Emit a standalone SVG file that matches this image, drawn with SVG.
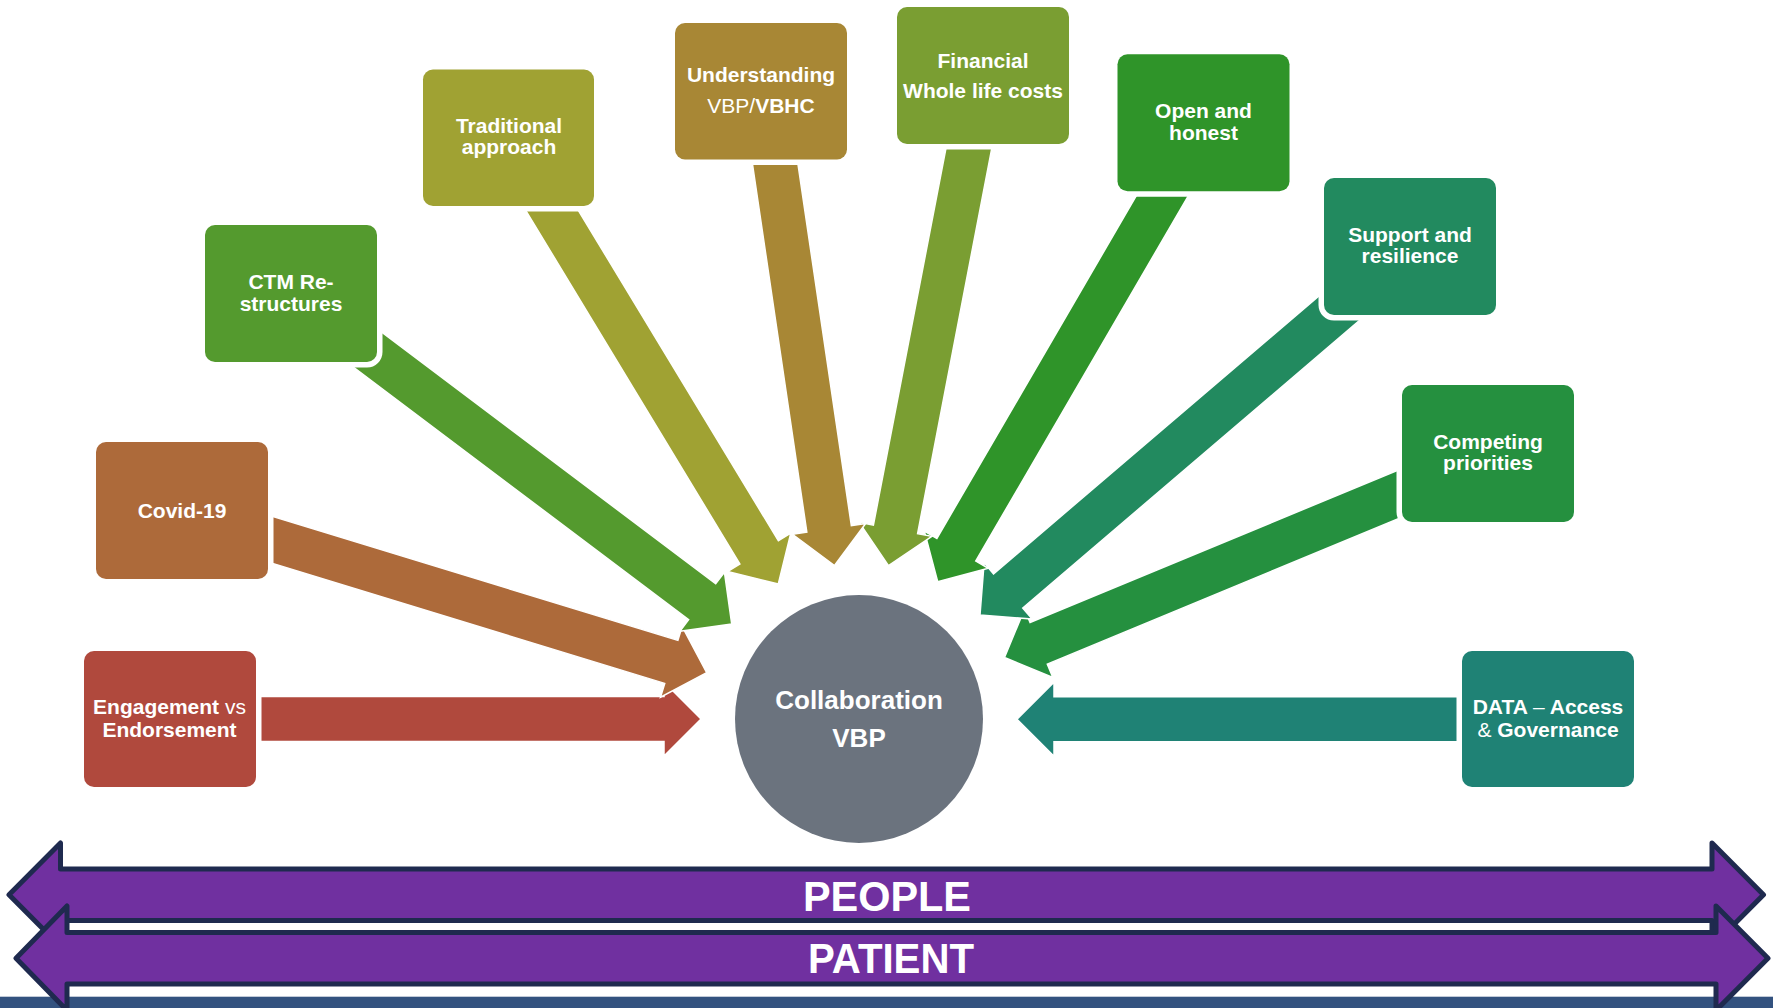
<svg xmlns="http://www.w3.org/2000/svg" xmlns:xlink="http://www.w3.org/1999/xlink" width="1773" height="1008" viewBox="0 0 1773 1008">
<style>
.bx{stroke:#fff;stroke-width:11;paint-order:stroke;}
.t{font-family:"Liberation Sans",Arial,sans-serif;font-size:21px;font-weight:bold;fill:#fff;text-anchor:middle;}
.n{font-weight:normal;}
.ar{stroke:#fff;stroke-width:1.5;stroke-linejoin:miter;}
.band{fill:#7030A0;stroke:#1F2A4F;stroke-width:5;stroke-linejoin:round;}
.bt{font-family:"Liberation Sans",Arial,sans-serif;font-size:42px;font-weight:bold;fill:#fff;text-anchor:middle;}
</style>
<defs>
<polygon id="arr" points="0,0 -37,-37 -37,-22.5 -520,-22.5 -520,22.5 -37,22.5 -37,37"/>
</defs>
<rect width="1773" height="1008" fill="#fff"/>
<rect x="0" y="996.7" width="1773" height="11.3" fill="#33527F"/>

<g id="connectors">
<use xlink:href="#arr" class="ar" fill="#B0493D" transform="translate(701,719) rotate(0)"/>
<use xlink:href="#arr" class="ar" fill="#1F8275" transform="translate(1017,719.3) rotate(180)"/>
<use xlink:href="#arr" class="ar" fill="#AD6A3A" transform="translate(706.7,672.7) rotate(17)"/>
<use xlink:href="#arr" class="ar" fill="#25903F" transform="translate(1004.5,657.5) rotate(157.5)"/>
<use xlink:href="#arr" class="ar" fill="#549A2E" transform="translate(731.7,624) rotate(37)"/>
<use xlink:href="#arr" class="ar" fill="#228A5F" transform="translate(980,615) rotate(139.5)"/>
<use xlink:href="#arr" class="ar" fill="#A0A233" transform="translate(778.3,584) rotate(58.8)"/>
<use xlink:href="#arr" class="ar" fill="#2F9429" transform="translate(937.7,581.7) rotate(120.2)"/>
<use xlink:href="#arr" class="ar" fill="#7A9E32" transform="translate(888.5,565.7) rotate(100.9)"/>
<use xlink:href="#arr" class="ar" fill="#A88735" transform="translate(834.5,565.5) rotate(81.6)"/>
</g>

<g id="node-engagement">
<rect class="bx" x="84" y="651" width="172" height="136" rx="10" fill="#B0493D"/>
<text class="t" x="169.5" y="714"><tspan>Engagement</tspan><tspan class="n"> vs</tspan></text>
<text class="t" x="169.5" y="736.5">Endorsement</text>
</g>
<g id="node-covid">
<rect class="bx" x="96" y="442" width="172" height="137" rx="10" fill="#AD6A3A"/>
<text class="t" x="182" y="517.5">Covid-19</text>
</g>
<g id="node-ctm">
<rect class="bx" x="205" y="225" width="172" height="137" rx="10" fill="#549A2E"/>
<text class="t" x="291" y="289.3">CTM Re-</text>
<text class="t" x="291" y="311">structures</text>
</g>
<g id="node-traditional">
<rect class="bx" x="423" y="69.5" width="171" height="136.5" rx="10" fill="#A0A233"/>
<text class="t" x="509" y="133.3">Traditional</text>
<text class="t" x="509" y="154.3">approach</text>
</g>
<g id="node-understanding">
<rect class="bx" x="675" y="23" width="172" height="136.5" rx="10" fill="#A88735"/>
<text class="t" x="761" y="82.3">Understanding</text>
<text class="t" x="761" y="113.3"><tspan class="n">VBP/</tspan><tspan>VBHC</tspan></text>
</g>
<g id="node-financial">
<rect class="bx" x="897" y="7" width="172" height="137" rx="10" fill="#7A9E32"/>
<text class="t" x="983" y="67.7">Financial</text>
<text class="t" x="983" y="97.7">Whole life costs</text>
</g>
<g id="node-open">
<rect class="bx" x="1117.5" y="54.3" width="172" height="137" rx="10" fill="#2F9429"/>
<text class="t" x="1203.5" y="118.3">Open and</text>
<text class="t" x="1203.5" y="140">honest</text>
</g>
<g id="node-support">
<rect class="bx" x="1324" y="178" width="172" height="137" rx="10" fill="#228A5F"/>
<text class="t" x="1410" y="241.7">Support and</text>
<text class="t" x="1410" y="262.7">resilience</text>
</g>
<g id="node-competing">
<rect class="bx" x="1402" y="385" width="172" height="137" rx="10" fill="#25903F"/>
<text class="t" x="1488" y="449">Competing</text>
<text class="t" x="1488" y="470">priorities</text>
</g>
<g id="node-data">
<rect class="bx" x="1462" y="651" width="172" height="136" rx="10" fill="#1F8275"/>
<text class="t" x="1548" y="714.3"><tspan>DATA </tspan><tspan class="n">–</tspan><tspan> Access</tspan></text>
<text class="t" x="1548" y="736.7"><tspan class="n">&amp;</tspan><tspan> Governance</tspan></text>
</g>
<g id="node-collaboration">
<circle cx="859" cy="719" r="124" fill="#6B737E"/>
<text class="t" style="font-size:26px" x="859" y="709">Collaboration</text>
<text class="t" style="font-size:26px" x="859" y="746.7">VBP</text>
</g>

<g id="node-people">
<path class="band" d="M9,894.7 L60.5,843 L60.5,869 L1712,869 L1712,843 L1763.5,894.7 L1712,946.4 L1712,920.4 L60.5,920.4 L60.5,946.4 Z"/>
<text class="bt" x="887" y="910.7" textLength="168" lengthAdjust="spacingAndGlyphs">PEOPLE</text>
</g>
<g id="node-patient">
<path class="band" d="M16,958.2 L67,906 L67,932.5 L1716,932.5 L1716,906 L1768,958.2 L1716,1010.4 L1716,984 L67,984 L67,1010.4 Z"/>
<text class="bt" x="891" y="973.3" textLength="166" lengthAdjust="spacingAndGlyphs">PATIENT</text>
</g>
</svg>
